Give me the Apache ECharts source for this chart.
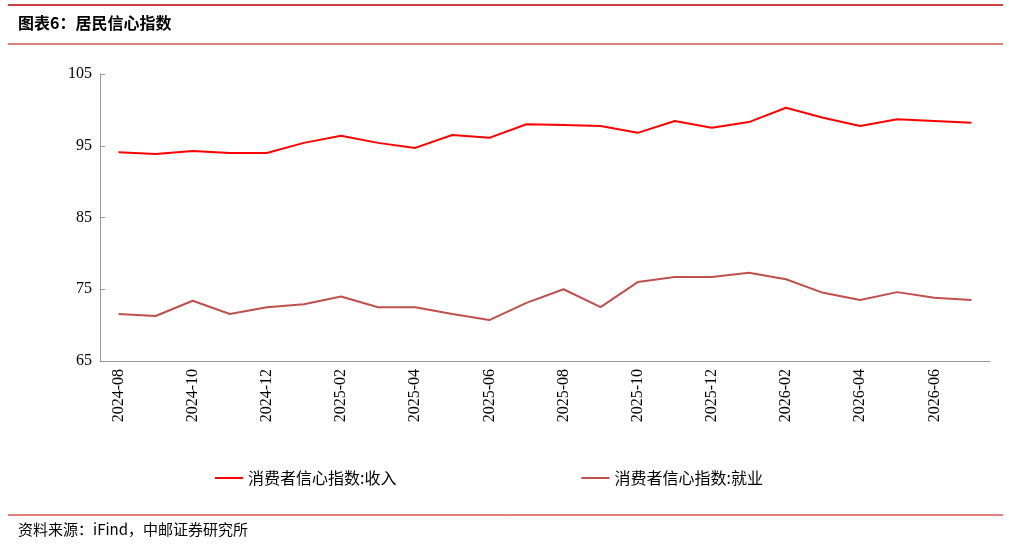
<!DOCTYPE html>
<html><head><meta charset="utf-8">
<script src="https://cdn.jsdelivr.net/npm/echarts@6/dist/echarts.min.js"></script>
<style>html,body{margin:0;padding:0;background:#fff}#c{width:1009px;height:549px}</style>
</head><body><div id="c"></div>
<script>
const categories=['2024-08','2024-09','2024-10','2024-11','2024-12','2025-01','2025-02','2025-03','2025-04','2025-05','2025-06','2025-07','2025-08','2025-09','2025-10','2025-11','2025-12','2026-01','2026-02','2026-03','2026-04','2026-05','2026-06','2026-07'];
const income=[94.1,93.85,94.27,94.0,94.0,95.4,96.4,95.4,94.7,96.5,96.1,98.0,97.9,97.75,96.8,98.45,97.5,98.3,100.3,98.9,97.75,98.7,98.45,98.2];
const employment=[71.55,71.27,73.4,71.55,72.5,72.9,74.0,72.5,72.5,71.55,70.7,73.1,75.0,72.5,76.0,76.7,76.7,77.3,76.4,74.5,73.5,74.6,73.8,73.5];
const F='"Noto Sans CJK SC"';
const c=echarts.init(document.getElementById('c'));
c.setOption({
 animation:false,
 textStyle:{fontFamily:F},
 graphic:[
  {type:'line',shape:{x1:8,y1:5,x2:1003,y2:5},style:{stroke:'#c00000',lineWidth:1.5}},
  {type:'text',left:18,top:15,style:{text:'图表6：居民信心指数',font:'bold 16px '+F,fill:'#000'}},
  {type:'line',shape:{x1:8,y1:44,x2:1003,y2:44},style:{stroke:'#c00000',lineWidth:1}},
  {type:'line',shape:{x1:8,y1:515,x2:1003,y2:515},style:{stroke:'#c00000',lineWidth:1}},
  {type:'text',left:18,top:522,style:{text:'资料来源：iFind，中邮证券研究所',font:'15px '+F,fill:'#000'}}
 ],
 grid:{left:100,right:19,top:74,bottom:188},
 legend:{bottom:58,left:210,itemGap:185,itemWidth:28,itemHeight:2,icon:'rect',textStyle:{fontSize:16,color:'#000',fontFamily:F},data:['消费者信心指数:收入','消费者信心指数:就业']},
 xAxis:{type:'category',data:categories,boundaryGap:true,
  axisLine:{lineStyle:{color:'#999'}},axisTick:{show:false},
  axisLabel:{interval:1,rotate:90,color:'#000',fontSize:16,fontFamily:'"Liberation Serif"',margin:8}},
 yAxis:{type:'value',min:65,max:105,interval:10,
  axisLine:{show:true,lineStyle:{color:'#999'}},axisTick:{show:true,inside:true,lineStyle:{color:'#999'}},splitLine:{show:false},
  axisLabel:{color:'#000',fontSize:16,fontFamily:'"Liberation Serif"'}},
 series:[
  {name:'消费者信心指数:收入',type:'line',data:income,symbol:'none',lineStyle:{color:'#ff0000',width:2},itemStyle:{color:'#ff0000'}},
  {name:'消费者信心指数:就业',type:'line',data:employment,symbol:'none',lineStyle:{color:'#c0504d',width:2},itemStyle:{color:'#c0504d'}}
 ]
});
</script></body></html>
